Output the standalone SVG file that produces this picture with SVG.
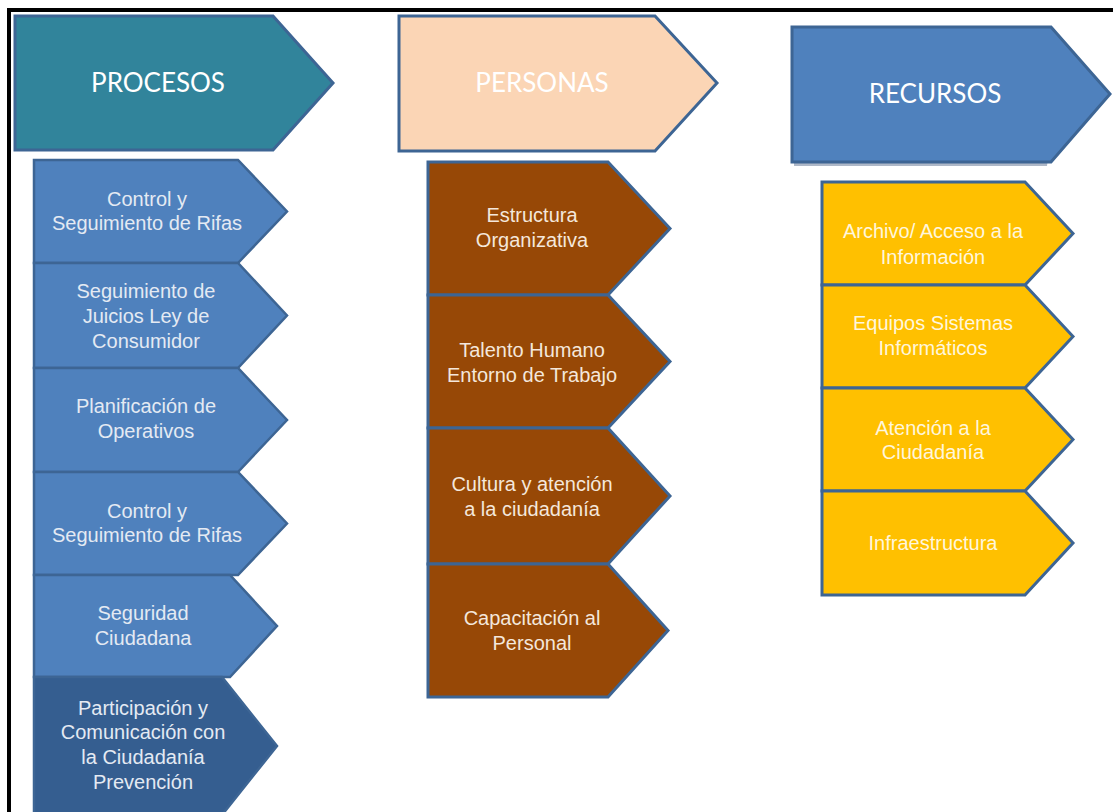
<svg xmlns="http://www.w3.org/2000/svg" width="1113" height="812" viewBox="0 0 1113 812">
  <style>
    .frame { fill: none; stroke: #000; stroke-width: 4; }
    .shape { stroke: #3D6594; stroke-width: 3; stroke-linejoin: miter; }
    .proc { fill: #4F81BD; stroke-width: 2.5; }
    .proc-dark { fill: #355E90; stroke-width: 2.5; }
    .pers { fill: #974806; }
    .recu { fill: #FFC000; }
    .head-proc { fill: #31849B; }
    .head-pers { fill: #FBD5B5; }
    .head-recu { fill: #4F81BD; }
    .shadow { fill: #AEB8C8; }
    .title { font-family: Lato, "Noto Sans", sans-serif; font-size: 26px; fill: #FFFFFF; text-anchor: middle; }
    .label { font-family: "Liberation Sans", Arial, sans-serif; font-size: 20px; text-anchor: middle; }
    .t-proc { fill: #E4EAF3; }
    .t-pers { fill: #F4E7DB; }
    .t-recu { fill: #FFF6DC; }
  </style>

  <rect width="1113" height="812" fill="#FFFFFF"/>

  <!-- page frame: top and left rules -->
  <g id="frame">
    <path class="frame" d="M9,812 V10 H1113"/>
  </g>

  <!-- column headers -->
  <g id="header-procesos">
    <polygon class="shape head-proc" points="15,16 273,16 333,83 273,150 15,150"/>
    <text class="title" x="158" y="92">PROCESOS</text>
  </g>
  <g id="header-personas">
    <polygon class="shape head-pers" points="399,16 655,16 717,83 655,151 399,151"/>
    <text class="title" x="542" y="92">PERSONAS</text>
  </g>
  <g id="header-recursos">
    <polygon class="shadow" points="794,150 1049,150 1047,166 794,166"/>
    <polygon class="shape head-recu" points="792,27 1051,27 1110,94 1051,162 792,162"/>
    <text class="title" x="935" y="103">RECURSOS</text>
  </g>

  <!-- PROCESOS column -->
  <g id="proc-1">
    <polygon class="shape proc" points="34,160 238,160 287,211.5 238,263 34,263"/>
    <text class="label t-proc" x="147" y="206">Control  y</text>
    <text class="label t-proc" x="147" y="230">Seguimiento de Rifas</text>
  </g>
  <g id="proc-2">
    <polygon class="shape proc" points="34,263 238,263 287,315.5 238,368 34,368"/>
    <text class="label t-proc" x="146" y="298">Seguimiento de</text>
    <text class="label t-proc" x="146" y="323">Juicios Ley de</text>
    <text class="label t-proc" x="146" y="348">Consumidor</text>
  </g>
  <g id="proc-3">
    <polygon class="shape proc" points="34,368 238,368 287,420 238,472 34,472"/>
    <text class="label t-proc" x="146" y="413">Planificación de</text>
    <text class="label t-proc" x="146" y="438">Operativos</text>
  </g>
  <g id="proc-4">
    <polygon class="shape proc" points="34,472 238,472 287,523.5 238,575 34,575"/>
    <text class="label t-proc" x="147" y="518">Control  y</text>
    <text class="label t-proc" x="147" y="542">Seguimiento de Rifas</text>
  </g>
  <g id="proc-5">
    <polygon class="shape proc" points="34,575 230,575 277,626 230,677 34,677"/>
    <text class="label t-proc" x="143" y="620">Seguridad</text>
    <text class="label t-proc" x="143" y="645">Ciudadana</text>
  </g>
  <g id="proc-6">
    <polygon class="shape proc-dark" points="34,677 222,677 277,746 222,815 34,815"/>
    <text class="label t-proc" x="143" y="715">Participación y</text>
    <text class="label t-proc" x="143" y="739">Comunicación con</text>
    <text class="label t-proc" x="143" y="764">la Ciudadanía</text>
    <text class="label t-proc" x="143" y="789">Prevención</text>
  </g>

  <!-- PERSONAS column -->
  <g id="pers-1">
    <polygon class="shape pers" points="428,162 608,162 670,228.5 608,295 428,295"/>
    <text class="label t-pers" x="532" y="222">Estructura</text>
    <text class="label t-pers" x="532" y="247">Organizativa</text>
  </g>
  <g id="pers-2">
    <polygon class="shape pers" points="428,295 608,295 670,361.5 608,428 428,428"/>
    <text class="label t-pers" x="532" y="357">Talento Humano</text>
    <text class="label t-pers" x="532" y="382">Entorno de Trabajo</text>
  </g>
  <g id="pers-3">
    <polygon class="shape pers" points="428,428 608,428 670,496 608,564 428,564"/>
    <text class="label t-pers" x="532" y="491">Cultura y atención</text>
    <text class="label t-pers" x="532" y="516">a la ciudadanía</text>
  </g>
  <g id="pers-4">
    <polygon class="shape pers" points="428,564 608,564 668,630.5 608,697 428,697"/>
    <text class="label t-pers" x="532" y="625">Capacitación al</text>
    <text class="label t-pers" x="532" y="650">Personal</text>
  </g>

  <!-- RECURSOS column -->
  <g id="recu-1">
    <polygon class="shape recu" points="822,182 1025,182 1073,233.5 1025,285 822,285"/>
    <text class="label t-recu" x="933" y="238">Archivo/ Acceso a la</text>
    <text class="label t-recu" x="933" y="264">Información</text>
  </g>
  <g id="recu-2">
    <polygon class="shape recu" points="822,285 1025,285 1073,336.5 1025,388 822,388"/>
    <text class="label t-recu" x="933" y="330">Equipos Sistemas</text>
    <text class="label t-recu" x="933" y="355">Informáticos</text>
  </g>
  <g id="recu-3">
    <polygon class="shape recu" points="822,388 1025,388 1073,439.5 1025,491 822,491"/>
    <text class="label t-recu" x="933" y="435">Atención a la</text>
    <text class="label t-recu" x="933" y="459">Ciudadanía</text>
  </g>
  <g id="recu-4">
    <polygon class="shape recu" points="822,491 1025,491 1073,543 1025,595 822,595"/>
    <text class="label t-recu" x="933" y="550">Infraestructura</text>
  </g>
</svg>
